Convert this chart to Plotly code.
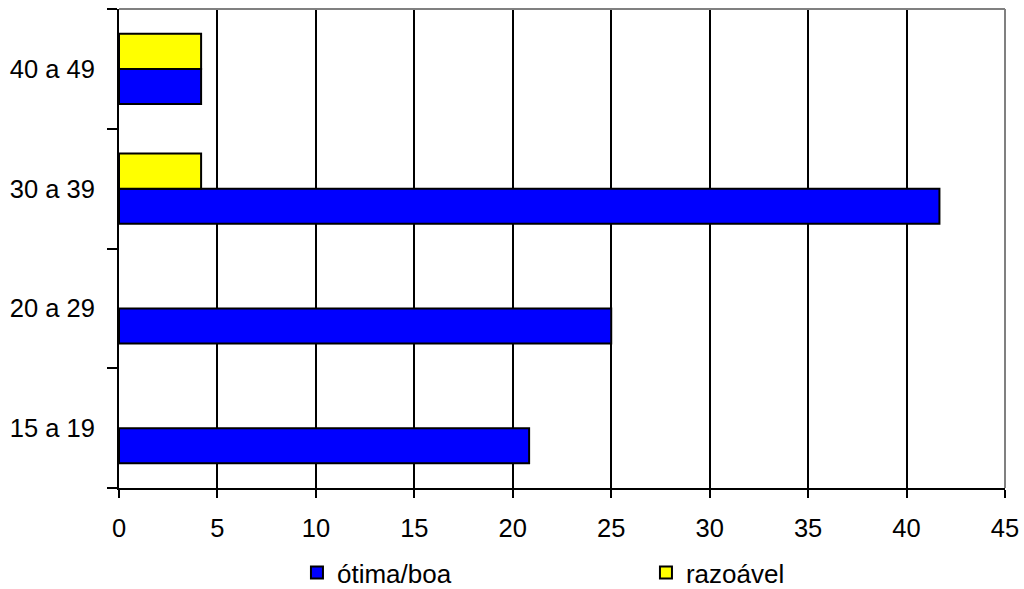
import plotly.graph_objects as go

categories = ["15 a 19", "20 a 29", "30 a 39", "40 a 49"]
otima_boa = [20.83, 25.0, 41.67, 4.17]
razoavel = [None, None, 4.17, 4.17]
x_ticks = [0, 5, 10, 15, 20, 25, 30, 35, 40, 45]

fig = go.Figure()
fig.add_trace(go.Bar(y=categories, x=otima_boa, orientation="h", name="ótima/boa",
                     marker=dict(color="#0000FF", line=dict(color="black", width=2))))
fig.add_trace(go.Bar(y=categories, x=razoavel, orientation="h", name="razoável",
                     marker=dict(color="#FFFF00", line=dict(color="black", width=2))))

font = dict(family="Liberation Sans, Arial, sans-serif", size=25.5, color="black")
legend_font = dict(family="Liberation Sans, Arial, sans-serif", size=26, color="black")

fig.update_layout(
    width=1024, height=589,
    margin=dict(l=119, r=19, t=9, b=101, autoexpand=False),
    paper_bgcolor="white", plot_bgcolor="white",
    barmode="group", bargap=0.415, bargroupgap=0,
    font=font,
    showlegend=True,
    legend=dict(orientation="h", xref="container", yref="container",
                x=0.29, y=0.028, xanchor="left", yanchor="middle",
                entrywidth=304, entrywidthmode="pixels", font=legend_font,
                traceorder="normal", itemclick=False, bgcolor="rgba(0,0,0,0)"),
    xaxis=dict(range=[0, 45], tickvals=x_ticks, showgrid=True, gridcolor="black", gridwidth=2,
               showline=True, linecolor="black", linewidth=2, ticks="outside",
               ticklen=8, tickwidth=2, tickcolor="black", zeroline=False, fixedrange=True,
               ticklabelstandoff=8, automargin=False),
    yaxis=dict(categoryorder="array", categoryarray=categories, showgrid=False,
               showline=True, linecolor="black", linewidth=2, ticks="outside",
               tickson="boundaries", ticklen=10, tickwidth=2, tickcolor="black",
               zeroline=False, fixedrange=True, ticklabelstandoff=17, automargin=False),
    shapes=[
        dict(type="line", xref="paper", yref="paper", x0=0, x1=1, y0=1, y1=1,
             line=dict(color="#808080", width=2), layer="above"),
        dict(type="line", xref="paper", yref="paper", x0=1, x1=1, y0=0, y1=1,
             line=dict(color="#808080", width=2), layer="above"),
    ],
)

fig.write_html("out.html", config={"displayModeBar": False, "staticPlot": True},
               post_script="document.body.style.margin='0';document.body.style.overflow='hidden';")
